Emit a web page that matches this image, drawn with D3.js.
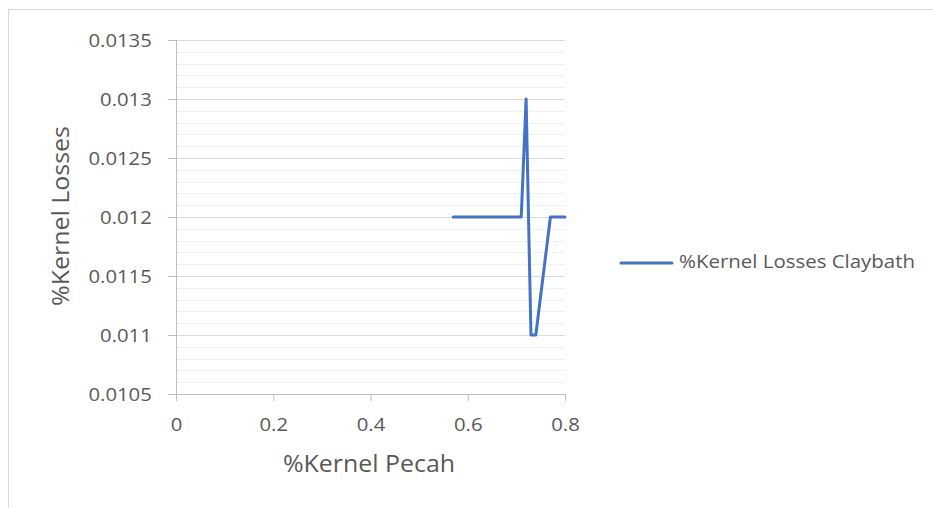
<!DOCTYPE html>
<html><head><meta charset="utf-8">
<script src="https://cdn.jsdelivr.net/npm/d3@7"></script>
<style>
html,body{margin:0;padding:0;background:#fff;}
svg text{font-family:"Open Sans",sans-serif;fill:#595959;}
</style></head>
<body>
<svg id="chart" width="933" height="508"></svg>
<script>
const xValues = [0.57, 0.6, 0.65, 0.7, 0.71, 0.72, 0.73, 0.74, 0.77, 0.8];
const yValues = [0.012, 0.012, 0.012, 0.012, 0.012, 0.013, 0.011, 0.011, 0.012, 0.012];
const xTicks = [0, 0.2, 0.4, 0.6, 0.8];
const yTicks = [0.0105, 0.011, 0.0115, 0.012, 0.0125, 0.013, 0.0135];
const yTickLabels = ["0.0105", "0.011", "0.0115", "0.012", "0.0125", "0.013", "0.0135"];
const seriesName = "%Kernel Losses Claybath";
const xTitle = "%Kernel Pecah";
const yTitle = "%Kernel Losses";

const svg = d3.select("#chart");
const x = d3.scaleLinear().domain([0, 0.8]).range([176, 565]);
const y = d3.scaleLinear().domain([0.0105, 0.0135]).range([394, 40]);

// chart border
svg.append("rect").attr("x", 8.5).attr("y", 9.5).attr("width", 1000).attr("height", 600)
  .attr("fill", "none").attr("stroke", "#d9d9d9").attr("stroke-width", 1);

// minor gridlines
const minor = d3.range(0, 31).map(i => 0.0105 + i * 0.0001).filter((v, i) => i % 5 !== 0);
svg.append("g").selectAll("line").data(minor).join("line")
  .attr("x1", x(0)).attr("x2", x(0.8))
  .attr("y1", d => Math.round(y(d)) + 0.5).attr("y2", d => Math.round(y(d)) + 0.5)
  .attr("stroke", "#f0f0f0").attr("stroke-width", 1);

// major gridlines
svg.append("g").selectAll("line").data(yTicks.slice(1)).join("line")
  .attr("x1", x(0)).attr("x2", x(0.8))
  .attr("y1", d => Math.round(y(d)) + 0.5).attr("y2", d => Math.round(y(d)) + 0.5)
  .attr("stroke", "#d9d9d9").attr("stroke-width", 1);

// y axis
const yAxis = d3.axisLeft(y).tickValues(yTicks).tickSize(8).tickPadding(16)
  .tickFormat((d, i) => yTickLabels[i]);
const gy = svg.append("g").attr("transform", `translate(${x(0)},0)`).call(yAxis);
gy.select(".domain").attr("stroke", "#bfbfbf").attr("d", `M0.5,${y(0.0135)}V${y(0.0105)}`);
gy.selectAll(".tick line").attr("stroke", "#bfbfbf");
gy.selectAll(".tick text").attr("font-size", 19).attr("fill", "#595959")
  .attr("font-family", "'Open Sans',sans-serif")
  .attr("transform", "translate(1.5,0) scale(1.07,1)");

// x axis
const xAxis = d3.axisBottom(x).tickValues(xTicks).tickSize(7).tickPadding(17)
  .tickFormat(d => d === 0 ? "0" : d3.format(".1f")(d));
const gx = svg.append("g").attr("transform", `translate(0,${y(0.0105)})`).call(xAxis);
gx.select(".domain").attr("stroke", "#bfbfbf").attr("d", `M${x(0)},0.5H${x(0.8)}`);
gx.selectAll(".tick line").attr("stroke", "#bfbfbf");
gx.selectAll(".tick text").attr("font-size", 19).attr("fill", "#595959")
  .attr("font-family", "'Open Sans',sans-serif")
  .attr("transform", "scale(1.07,1)");

// line
const data = xValues.map((v, i) => [v, yValues[i]]);
svg.append("path").datum(data)
  .attr("fill", "none").attr("stroke", "#4472c4").attr("stroke-width", 3)
  .attr("stroke-linejoin", "round").attr("stroke-linecap", "round")
  .attr("d", d3.line().x(d => x(d[0])).y(d => y(d[1])));

// axis titles
svg.append("text").attr("x", 369).attr("y", 466).attr("text-anchor", "middle")
  .attr("dominant-baseline", "middle").attr("font-size", 23)
  .attr("textLength", 172).attr("lengthAdjust", "spacingAndGlyphs").text(xTitle);
svg.append("text").attr("transform", "translate(63,216) rotate(-90)").attr("text-anchor", "middle")
  .attr("dominant-baseline", "middle").attr("font-size", 23)
  .attr("textLength", 180).attr("lengthAdjust", "spacingAndGlyphs").text(yTitle);

// legend
svg.append("line").attr("x1", 621).attr("x2", 672).attr("y1", 263).attr("y2", 263)
  .attr("stroke", "#4472c4").attr("stroke-width", 3).attr("stroke-linecap", "round");
svg.append("text").attr("x", 679).attr("y", 263).attr("dominant-baseline", "middle")
  .attr("font-size", 18.5).attr("textLength", 236).attr("lengthAdjust", "spacingAndGlyphs")
  .text(seriesName);
</script>
</body></html>
